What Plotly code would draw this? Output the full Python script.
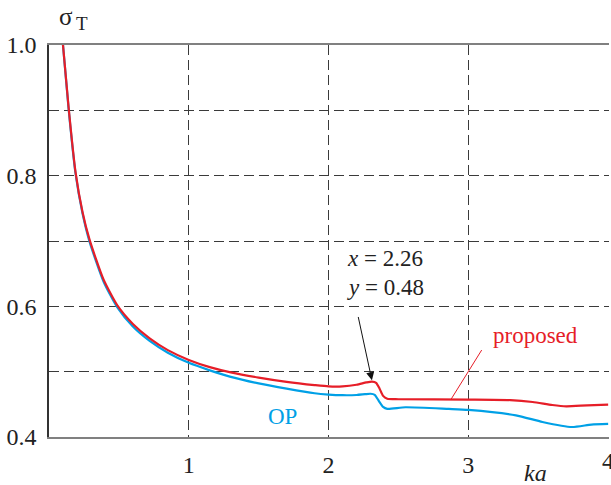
import plotly.graph_objects as go

# ---- data ----
ka_proposed = [0.10, 0.14, 0.19, 0.24, 0.29, 0.39, 0.49, 0.60, 0.72, 0.85, 1.00,
               1.15, 1.30, 1.50, 1.70, 1.90, 2.00, 2.10, 2.20, 2.27, 2.31, 2.34,
               2.365, 2.39, 2.42, 2.50, 3.00, 3.30, 3.46, 3.60, 3.70, 3.85, 4.00]
sigma_proposed = [1.000, 0.905, 0.805, 0.744, 0.702, 0.641, 0.601, 0.573, 0.551, 0.533, 0.518,
                  0.507, 0.499, 0.491, 0.4845, 0.4795, 0.4775, 0.4775, 0.4800, 0.4835, 0.4848, 0.4830,
                  0.4740, 0.4630, 0.4585, 0.4578, 0.4573, 0.4565, 0.4536, 0.4490, 0.4470, 0.4485, 0.4496]

ka_op = [0.10, 0.14, 0.19, 0.24, 0.29, 0.39, 0.49, 0.60, 0.72, 0.85, 1.00,
         1.15, 1.30, 1.50, 1.70, 1.90, 2.00, 2.10, 2.20, 2.26, 2.30, 2.33,
         2.36, 2.39, 2.42, 2.55, 2.86, 3.00, 3.34, 3.53, 3.74, 3.88, 4.00]
sigma_op = [1.000, 0.903, 0.803, 0.742, 0.699, 0.638, 0.598, 0.569, 0.547, 0.529, 0.5135,
            0.502, 0.492, 0.482, 0.474, 0.467, 0.465, 0.464, 0.4643, 0.4655, 0.4662, 0.4645,
            0.455, 0.446, 0.443, 0.4455, 0.4429, 0.4414, 0.4332, 0.4230, 0.4153, 0.4190, 0.4200]

x_ticks = [1, 2, 3, 4]
x_tick_labels = ["1", "2", "3", "4"]
y_ticks = [0.4, 0.6, 0.8, 1.0]
y_tick_labels = ["0.4", "0.6", "0.8", "1.0"]
y_minor_grid = [0.5, 0.7, 0.9]

RED = "#e61e28"
BLUE = "#00a0e6"
FONT = "Liberation Serif, Times New Roman, DejaVu Serif, serif"
GRID = "#3a3a3a"
TXT = "#222"

fig = go.Figure()
fig.add_trace(go.Scatter(x=ka_op, y=sigma_op, mode="lines",
                         line=dict(color=BLUE, width=2.2, shape="spline", smoothing=0.6),
                         showlegend=False))
fig.add_trace(go.Scatter(x=ka_proposed, y=sigma_proposed, mode="lines",
                         line=dict(color=RED, width=2.2, shape="spline", smoothing=0.6),
                         showlegend=False))

fig.update_layout(
    width=611, height=485,
    margin=dict(l=49, r=2, t=45, b=48),
    paper_bgcolor="white", plot_bgcolor="white",
    font=dict(family=FONT, size=24, color=TXT),
    xaxis=dict(range=[0, 4.006], tickvals=x_ticks[:-1], ticktext=x_tick_labels[:-1],
               showgrid=True, gridcolor=GRID, griddash="10px,5px", gridwidth=1,
               minor=dict(tickvals=x_ticks[-1:], showgrid=True, gridcolor=GRID,
                          griddash="10px,5px", gridwidth=1, ticks=""),
               showline=True, linecolor="#808080", linewidth=2, mirror=True,
               ticks="", ticklabelstandoff=5, zeroline=False,
               tickfont=dict(family=FONT, size=24, color=TXT)),
    yaxis=dict(range=[0.4, 1.0], tickvals=y_ticks, ticktext=y_tick_labels,
               showgrid=True, gridcolor=GRID, griddash="10px,5px", gridwidth=1,
               minor=dict(tickvals=y_minor_grid, showgrid=True, gridcolor=GRID,
                          griddash="10px,5px", gridwidth=1, ticks=""),
               showline=True, linecolor="#333", linewidth=1.6,
               ticks="", ticklabelstandoff=6, zeroline=False,
               tickfont=dict(family=FONT, size=24, color=TXT)),
)

# last x tick label sits on the right edge (half cut in the reference)
fig.add_annotation(x=x_ticks[-1], y=-0.062, xref="x", yref="paper", xanchor="center",
                   yanchor="middle", text=x_tick_labels[-1], showarrow=False,
                   font=dict(family=FONT, size=24, color=TXT))

# annotation arrow to the resonance point
fig.add_annotation(x=2.31, y=0.4869, ax=2.21, ay=0.586, xref="x", yref="y",
                   axref="x", ayref="y", text="", showarrow=True,
                   arrowhead=2, arrowsize=1.6, arrowwidth=1, arrowcolor="#111")
fig.add_annotation(x=2.12, y=0.6726, xref="x", yref="y", xanchor="left", yanchor="middle",
                   text="<i>x</i> = 2.26", showarrow=False,
                   font=dict(family=FONT, size=23, color=TXT))
fig.add_annotation(x=2.12, y=0.6292, xref="x", yref="y", xanchor="left", yanchor="middle",
                   text="<i>y</i> = 0.48", showarrow=False,
                   font=dict(family=FONT, size=23, color=TXT))

# series labels
fig.add_annotation(x=2.876, y=0.4577, ax=3.102, ay=0.5354, xref="x", yref="y",
                   axref="x", ayref="y", text="", showarrow=True,
                   arrowhead=0, arrowwidth=1, arrowcolor=RED)
fig.add_annotation(x=3.16, y=0.5557, xref="x", yref="y", xanchor="left", yanchor="middle",
                   text="proposed", showarrow=False,
                   font=dict(family=FONT, size=23, color=RED))
fig.add_annotation(x=1.555, y=0.4317, xref="x", yref="y", xanchor="left", yanchor="middle",
                   text="OP", showarrow=False,
                   font=dict(family=FONT, size=23, color=BLUE))

# axis titles
fig.add_annotation(x=0.8688, y=-0.0915, xref="paper", yref="paper", xanchor="center",
                   yanchor="middle", text="<i>ka</i>", showarrow=False,
                   font=dict(family=FONT, size=24, color=TXT))
fig.add_annotation(x=0.014, y=1.0724, xref="paper", yref="paper", xanchor="left",
                   yanchor="middle", text="σ", showarrow=False,
                   font=dict(family=FONT, size=25, color=TXT))
fig.add_annotation(x=0.044, y=1.0554, xref="paper", yref="paper", xanchor="left",
                   yanchor="middle", text="T", showarrow=False,
                   font=dict(family=FONT, size=19, color=TXT))

fig.write_html("out.html", config={"displayModeBar": False},
               post_script="document.body.style.margin='0';document.body.style.padding='0';")
